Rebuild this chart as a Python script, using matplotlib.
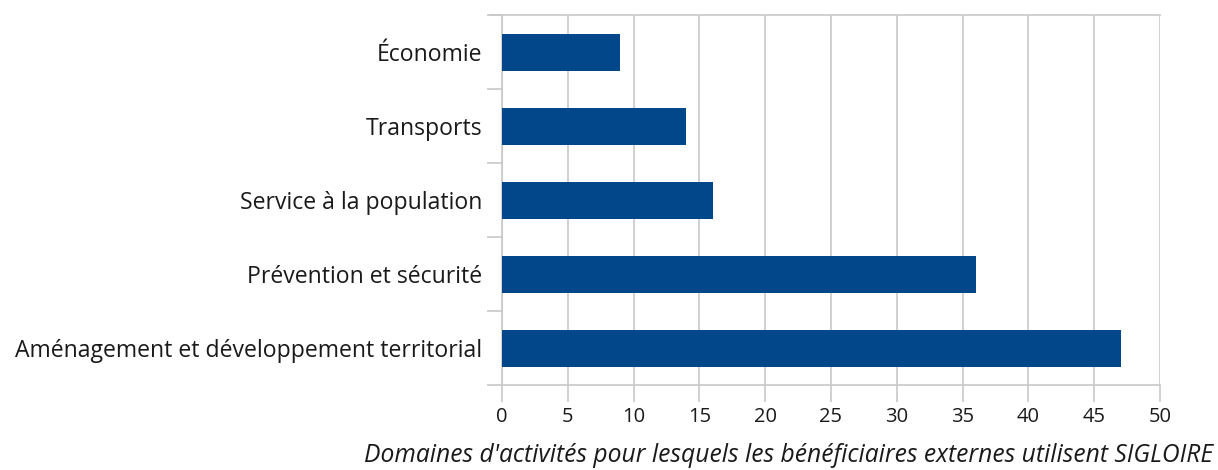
import matplotlib
matplotlib.use("Agg")
import matplotlib.pyplot as plt
from matplotlib.ticker import FixedLocator, NullFormatter

categories = ["Aménagement et développement territorial", "Prévention et sécurité",
              "Service à la population", "Transports", "Économie"]
values = [47, 36, 16, 14, 9]
xticks = [0, 5, 10, 15, 20, 25, 30, 35, 40, 45, 50]
xlabel = "Domaines d'activités pour lesquels les bénéficiaires externes utilisent SIGLOIRE"

plt.rcParams['font.family'] = ['Open Sans', 'DejaVu Sans']
fig = plt.figure(figsize=(12.18, 4.70), dpi=100)
ax = fig.add_axes([502/1218, 85/470, (1160-502)/1218, (385-15)/470])

grid_c = "#c8c8c8"
ax.barh(range(len(categories)), values, height=0.5, color="#02478a", zorder=3)
ax.set_xlim(0, 50)
ax.set_ylim(-0.5, len(categories) - 0.5)
ax.set_xticks(xticks)
ax.set_xticklabels([str(t) for t in xticks], fontsize=14.5, color="#1a1a1a")
ax.set_yticks(range(len(categories)))
ax.set_yticklabels(categories, fontsize=16.6, color="#1a1a1a")
ax.tick_params(axis='y', length=0, pad=14)
ax.yaxis.set_minor_locator(FixedLocator([i - 0.5 for i in range(len(categories) + 1)]))
ax.yaxis.set_minor_formatter(NullFormatter())
ax.tick_params(axis='y', which='minor', length=11, color=grid_c, width=1.2)
ax.tick_params(axis='x', length=12, color=grid_c, width=1.2, pad=4)
ax.grid(axis='x', color=grid_c, linewidth=1.2, zorder=0)
for s in ['left', 'bottom', 'top']:
    ax.spines[s].set_color(grid_c)
    ax.spines[s].set_linewidth(1.2)
ax.spines['right'].set_visible(False)
ax.spines['top'].set_visible(False)
ax.axhline(len(categories) - 0.5, xmin=-0.017, xmax=1, color=grid_c, linewidth=1.2, clip_on=False)

fig.text(1213/1218, 1 - 455/470, xlabel, ha='right', va='center', fontsize=17.7,
         style='italic', color="#1a1a1a")
fig.savefig("out.png", dpi=100)
